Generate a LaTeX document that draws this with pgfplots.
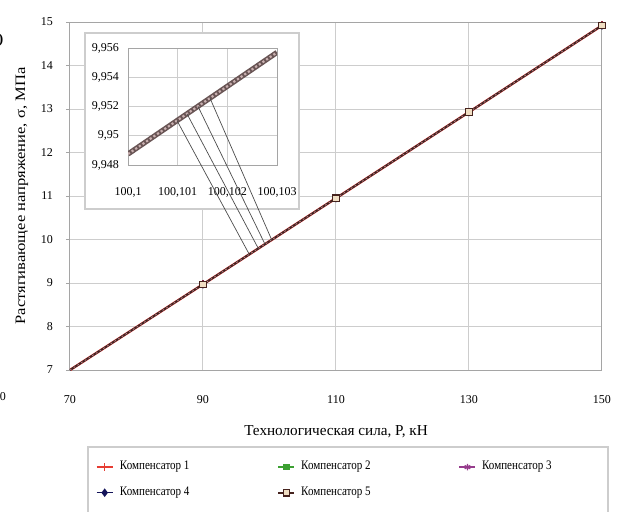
\documentclass[border=0pt]{standalone}
\usepackage{fontspec}
\setmainfont{Liberation Serif}
\newfontfamily\condfont{Liberation Serif}[FakeStretch=0.85]
\newfontfamily\widefont{Liberation Serif}[FakeStretch=1.15]
\usepackage{pgfplots}
\pgfplotsset{compat=1.18}
\definecolor{gridc}{RGB}{205,205,205}
\definecolor{axc}{RGB}{165,165,165}
\definecolor{s1}{RGB}{230,60,50}
\definecolor{s2}{RGB}{60,160,50}
\definecolor{s3}{RGB}{150,60,140}
\definecolor{s4}{RGB}{20,20,90}
\definecolor{s5}{RGB}{70,35,30}
\definecolor{s5f}{RGB}{240,222,195}
\definecolor{bead}{RGB}{190,140,140}
\definecolor{bandd}{RGB}{105,85,85}
\definecolor{bandl}{RGB}{200,175,175}
\begin{document}
\begin{tikzpicture}
\useasboundingbox (-35pt,-70.5pt) rectangle (275pt,185pt);
\begin{axis}[
  at={(0pt,0pt)}, anchor=south west,
  scale only axis, width=266pt, height=174pt,
  xmin=70, xmax=150, ymin=7, ymax=15,
  xtick={70,90,110,130,150}, ytick={7,8,...,15},
  grid=major, major grid style={gridc, line width=0.5pt},
  axis line style={axc, line width=0.5pt},
  tick style={axc, line width=0.5pt}, tick align=outside,
  major tick length=2pt, xtick pos=bottom, ytick pos=left,
  xtick style={draw=none},
  ticklabel style={font=\fontsize{6}{7}\selectfont},
  /pgf/number format/assume math mode=true,
  xticklabel style={yshift=-7pt},
  yticklabel style={xshift=-3pt},
  every axis y label/.style={at={(axis description cs:-0.0902,0.5)}, rotate=90, anchor=center},
  every axis x label/.style={at={(axis description cs:0.5,-0.178)}, anchor=center},
  xlabel style={font=\fontsize{7.6}{9}\selectfont},
  ylabel style={font=\widefont\fontsize{7.2}{9}\selectfont},
  ylabel={Растягивающее напряжение, σ, МПа},
  xlabel={Технологическая сила, Р, кН},
  legend columns=3,
  legend cell align=left,
  legend image code/.code={\draw[mark indices={2}] plot coordinates {(0pt,0pt) (4pt,0pt) (8pt,0pt)};},
  legend style={at={(axis description cs:0.0338,-0.221)}, anchor=north west,
    draw=none, fill=none, inner xsep=3.5pt, inner ysep=5pt, row sep=3pt,
    font=\condfont\fontsize{6.5}{7.5}\selectfont,
    /tikz/every odd column/.append style={column sep=1pt},
    /tikz/every even column/.append style={column sep=42pt}},
]
\addplot[s1, line width=1.3pt, mark=+, mark size=2pt, mark indices={2,3,4,5}, mark options={line width=0.6pt}]
  coordinates {(70,7.00) (90,8.97) (110,10.95) (130,12.93) (150,14.92)};
\addlegendentry{Компенсатор 1}
\addplot[s2, line width=0.7pt, mark=square*, mark size=1.3pt, mark indices={2,3,4,5}]
  coordinates {(70,7.00) (90,8.97) (110,10.95) (130,12.93) (150,14.92)};
\addlegendentry{Компенсатор 2}
\addplot[s3, line width=0.7pt, mark=asterisk, mark size=1.6pt, mark indices={2,3,4,5}]
  coordinates {(70,7.00) (90,8.97) (110,10.95) (130,12.93) (150,14.92)};
\addlegendentry{Компенсатор 3}
\addplot[s4, line width=0.7pt, mark=diamond*, mark size=1.6pt, mark indices={2,3,4,5}]
  coordinates {(70,7.00) (90,8.97) (110,10.95) (130,12.93) (150,14.92)};
\addlegendentry{Компенсатор 4}
\addplot[s5, line width=0.85pt, mark=square*, mark size=1.6pt, mark indices={2,3,4,5}, mark options={fill=s5f, draw=s5, line width=0.6pt}]
  coordinates {(70,7.00) (90,8.97) (110,10.95) (130,12.93) (150,14.92)};
\addlegendentry{Компенсатор 5}
\addplot[bead, line width=0.35pt, dash pattern=on 0.9pt off 1.3pt, forget plot]
  coordinates {(70,7.00) (90,8.97) (110,10.95) (130,12.93) (150,14.92)};
\coordinate (e1) at (axis cs:96.96,9.659);
\coordinate (e2) at (axis cs:98.32,9.794);
\coordinate (e3) at (axis cs:99.32,9.893);
\coordinate (e4) at (axis cs:100.33,9.993);
\end{axis}
% inset frame
\draw[gridc, line width=0.6pt, fill=white] (7.5pt,80.5pt) rectangle (114.5pt,168.5pt);
% legend frame
\draw[gridc, line width=0.6pt] (9pt,-38.5pt) rectangle (269pt,-80pt);
\begin{axis}[
  at={(29pt,102.5pt)}, anchor=south west,
  scale only axis, width=74.5pt, height=58.5pt,
  xmin=0, xmax=3, ymin=0, ymax=8,
  xtick={0,1,2,3}, ytick={0,2,4,6,8},
  xticklabels={{100,1},{100,101},{100,102},{100,103}},
  yticklabels={{9,948},{9,95},{9,952},{9,954},{9,956}},
  grid=major, major grid style={gridc, line width=0.5pt},
  axis line style={axc, line width=0.5pt},
  tick style={draw=none},
  ticklabel style={font=\fontsize{6}{7}\selectfont},
  xticklabel style={yshift=-7.5pt},
  yticklabel style={xshift=-1pt},
]
\addplot[bandd, line width=2.6pt] coordinates {(0,0.75) (3,7.7)};
\addplot[bandl, line width=1.1pt, dash pattern=on 1.1pt off 1.1pt] coordinates {(0,0.75) (3,7.7)};
\coordinate (s1) at (axis cs:0.987,3.036);
\coordinate (s2) at (axis cs:1.188,3.50);
\coordinate (s3) at (axis cs:1.409,4.01);
\coordinate (s4) at (axis cs:1.651,4.57);
\end{axis}
\draw[black!70, line width=0.35pt] (s1) -- (e1);
\draw[black!70, line width=0.35pt] (s2) -- (e2);
\draw[black!70, line width=0.35pt] (s3) -- (e3);
\draw[black!70, line width=0.35pt] (s4) -- (e4);
\node[font=\fontsize{6}{7}\selectfont] at (-33.5pt,-13.5pt) {0};
\node[font=\bfseries\fontsize{7}{8}\selectfont] at (-34.5pt,165pt) {)};
\end{tikzpicture}
\end{document}
